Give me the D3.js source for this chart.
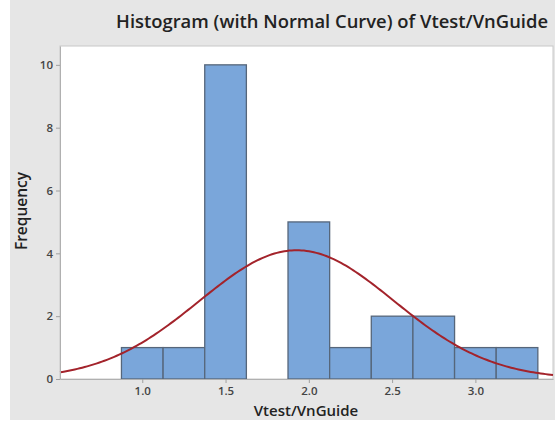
<!DOCTYPE html>
<html>
<head>
<meta charset="utf-8">
<script src="https://cdn.jsdelivr.net/npm/d3@7"></script>
<style>
  body { margin: 0; background: #fff; }
  text { font-family: "Open Sans", "Noto Sans", sans-serif; }
</style>
</head>
<body>
<div id="chart"></div>
<script>
// Histogramme + courbe normale
var width = 557
var height = 422

// Données
const binStarts = [0.875, 1.125, 1.375, 1.625, 1.875, 2.125, 2.375, 2.625, 2.875, 3.125]
const counts = [1, 1, 10, 0, 5, 1, 2, 2, 1, 1]
const binWidth = 0.25
const xTicks = [1.0, 1.5, 2.0, 2.5, 3.0]
const yTicks = [0, 2, 4, 6, 8, 10]
const mean = 1.927
const stdev = 0.584

const margin = {left: 60, right: 4, top: 46, bottom: 43}

const svg = d3.select("#chart")
  .append("svg")
    .attr("width", width)
    .attr("height", height)

// fond gris
svg.append("rect")
  .attr("x", 10).attr("y", 0)
  .attr("width", 545).attr("height", 420)
  .attr("fill", "#e6e6e6")

const x = d3.scaleLinear()
  .domain([0.506, 3.466])
  .range([margin.left, width - margin.right])

const y = d3.scaleLinear()
  .domain([0, 10.6])
  .range([height - margin.bottom, margin.top])

// zone du graphique
svg.append("rect")
  .attr("x", margin.left).attr("y", margin.top)
  .attr("width", width - margin.right - margin.left)
  .attr("height", height - margin.bottom - margin.top)
  .attr("fill", "white")
  .attr("stroke", "#c8c8c8")

// Barres
svg.append("g")
  .selectAll("rect")
  .data(counts.map((c, i) => ({x0: binStarts[i], n: c})).filter(d => d.n > 0))
  .join("rect")
    .attr("x", d => x(d.x0))
    .attr("y", d => y(d.n))
    .attr("width", d => x(d.x0 + binWidth) - x(d.x0))
    .attr("height", d => y(0) - y(d.n))
    .attr("fill", "#7aa6da")
    .attr("stroke", "#56667a")
    .attr("stroke-width", 1.3)

// Courbe normale
const total = d3.sum(counts)
const normal = v => total * binWidth / (stdev * Math.sqrt(2 * Math.PI)) * Math.exp(-0.5 * Math.pow((v - mean) / stdev, 2))
const curvePts = d3.range(0, 201).map(i => {
  const v = x.domain()[0] + (x.domain()[1] - x.domain()[0]) * i / 200
  return [v, normal(v)]
})
svg.append("path")
  .datum(curvePts)
  .attr("fill", "none")
  .attr("stroke", "#a3232b")
  .attr("stroke-width", 2)
  .attr("d", d3.line().x(d => x(d[0])).y(d => y(d[1])))

// Axes
const xAxis = svg.append("g")
  .attr("transform", `translate(0,${height - margin.bottom})`)
  .call(d3.axisBottom(x).tickValues(xTicks).tickFormat(d3.format(".1f")).tickSize(4).tickSizeOuter(0))
const yAxis = svg.append("g")
  .attr("transform", `translate(${margin.left},0)`)
  .call(d3.axisLeft(y).tickValues(yTicks).tickSize(4).tickSizeOuter(0))

;[xAxis, yAxis].forEach(a => {
  a.select(".domain").attr("stroke", "#b0b0b0")
  a.selectAll(".tick line").attr("stroke", "#a0a0a0")
  a.selectAll(".tick text")
    .attr("fill", "#444")
    .style("font-size", "11.5px")
    .style("font-weight", "600")
    .style("font-family", "'Open Sans', sans-serif")
})
xAxis.selectAll(".tick text").attr("dy", "0.8em")

// Titres
svg.append("text")
  .attr("x", 548).attr("y", 28)
  .attr("text-anchor", "end")
  .style("font-size", "18.4px")
  .style("font-weight", "600")
  .attr("fill", "#222")
  .text("Histogram (with Normal Curve) of Vtest/VnGuide")

svg.append("text")
  .attr("x", 306).attr("y", 416)
  .attr("text-anchor", "middle")
  .style("font-size", "15px")
  .style("font-weight", "600")
  .attr("fill", "#222")
  .text("Vtest/VnGuide")

svg.append("text")
  .attr("transform", "translate(27,211) rotate(-90)")
  .attr("text-anchor", "middle")
  .style("font-size", "15.5px")
  .style("font-weight", "600")
  .attr("fill", "#222")
  .text("Frequency")
</script>
</body>
</html>
